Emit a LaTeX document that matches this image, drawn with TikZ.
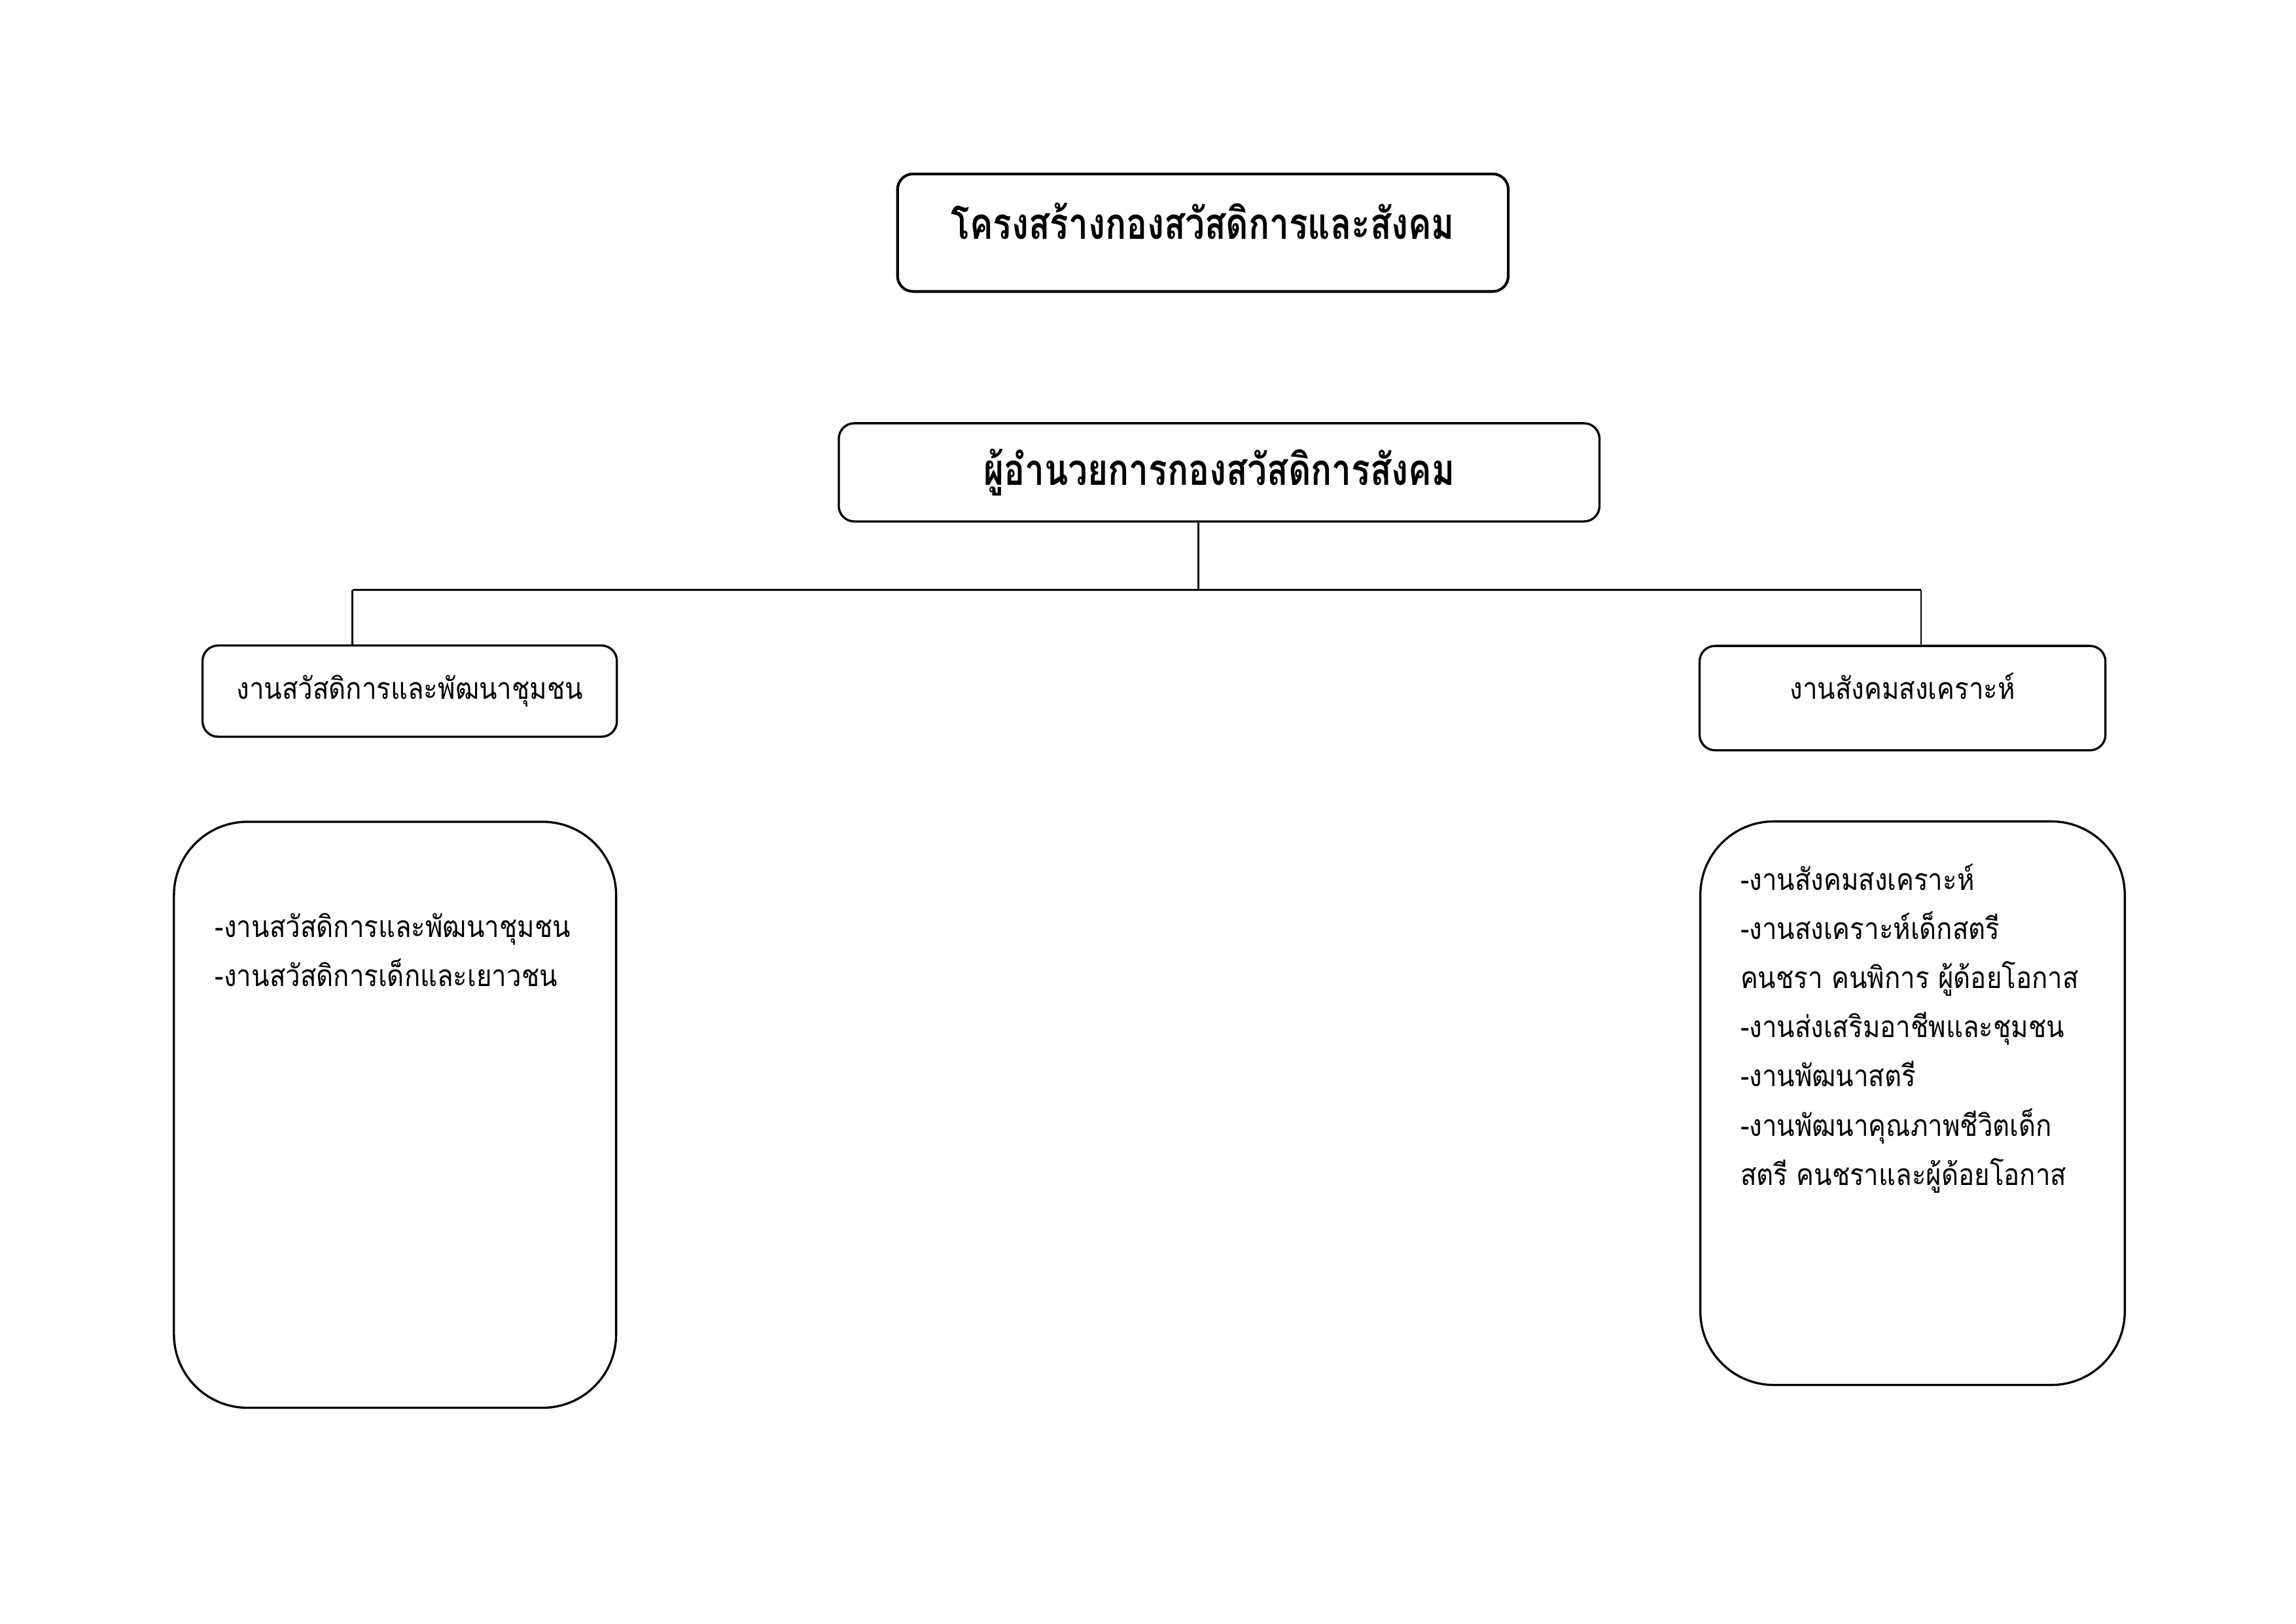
\documentclass[tikz,border=0pt]{standalone}
\usepackage{fontspec}
\newfontfamily\thaifont[Script=Thai, FakeStretch=0.88]{Loma}
\newfontfamily\thaihead[Script=Thai, FakeStretch=0.8]{Loma}
\usepackage{tikz}
\usetikzlibrary{positioning,calc}
\tikzset{
  every picture/.append style={line width=0.8pt},
  every node/.append style={font=\thaifont},
}
\tikzset{
  headbox/.style={draw, rounded corners=2mm, align=center, minimum width=79mm, minimum height=15.2mm, font=\thaihead\bfseries\fontsize{16}{19}\selectfont},
  chiefbox/.style={draw, rounded corners=2mm, align=center, minimum width=98.4mm, minimum height=12.7mm, font=\thaihead\bfseries\fontsize{16}{19}\selectfont},
  unitbox/.style={draw, rounded corners=2mm, align=center, minimum height=11.8mm, font=\thaifont\fontsize{11}{18}\selectfont},
  listbox/.style={draw, rounded corners=9.5mm},
  listtext/.style={align=left, inner sep=0pt, anchor=north west, font=\thaifont\fontsize{11}{18.1}\selectfont},
  link/.style={line width=0.7pt}
}
\begin{document}
\begin{tikzpicture}
\useasboundingbox (0,0) rectangle (29.7,-21);

% Row 1: title and director
\node[headbox, line width=1pt, text depth=3mm] (head) at (15.56,-3.01) {โครงสร้างกองสวัสดิการและสังคม};
\node[chiefbox] (chief) at (15.77,-6.11) {ผู้อำนวยการกองสวัสดิการสังคม};

% bus line
\coordinate (busM) at (15.50,-7.63);
\coordinate (busL) at (4.56,-7.63);
\coordinate (busR) at (24.85,-7.63);

% Row 2: the two units
\node[unitbox, minimum width=53.6mm] (unitL) at (5.30,-8.94) {งานสวัสดิการและพัฒนาชุมชน};
\node[unitbox, minimum width=52.5mm, minimum height=13.5mm, text depth=3.2mm] (unitR) at (24.61,-9.03) {งานสังคมสงเคราะห์};

% Row 3: task lists
\node[listbox, minimum width=57.2mm, minimum height=75.8mm] (listL) at (5.11,-14.42) {};
\node[listbox, minimum width=54.9mm, minimum height=72.9mm] (listR) at (24.74,-14.27) {};
\node[listtext] (txtL) at (2.77,-11.80) {-งานสวัสดิการและพัฒนาชุมชน\\-งานสวัสดิการเด็กและเยาวชน};
\node[listtext] (txtR) at (22.50,-11.16) {-งานสังคมสงเคราะห์\\-งานสงเคราะห์เด็กสตรี\\คนชรา คนพิการ ผู้ด้อยโอกาส\\-งานส่งเสริมอาชีพและชุมชน\\-งานพัฒนาสตรี\\-งานพัฒนาคุณภาพชีวิตเด็ก\\สตรี คนชราและผู้ด้อยโอกาส};

% Edges
\draw[link] (chief.south -| busM) -- (busM);
\draw[link] (busL) -- (busR);
\draw[link] (busL) -- (busL |- unitL.north);
\draw[link] (busR) -- (busR |- unitR.north);

\end{tikzpicture}
\end{document}
